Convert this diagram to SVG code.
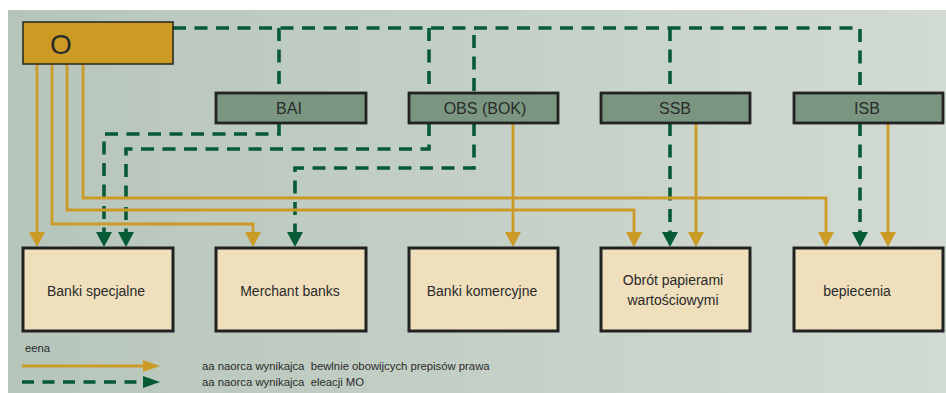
<svg xmlns="http://www.w3.org/2000/svg" width="946" height="393" viewBox="0 0 946 393">
<defs>
<linearGradient id="bg" x1="0" y1="0" x2="1" y2="0">
<stop offset="0" stop-color="#b6c5ba"/>
<stop offset="1" stop-color="#d2dbd3"/>
</linearGradient>
<marker id="ao" markerUnits="userSpaceOnUse" markerWidth="16" markerHeight="18" refX="0" refY="8" orient="auto" viewBox="0 0 16 16">
<path d="M0,0 L15,8 L0,16 z" fill="#cc9b27"/>
</marker>
<marker id="ag" markerUnits="userSpaceOnUse" markerWidth="16" markerHeight="18" refX="0" refY="8" orient="auto" viewBox="0 0 16 16">
<path d="M0,0 L15,8 L0,16 z" fill="#075a36"/>
</marker>
</defs>
<style>
.t{font-family:"Liberation Sans",Arial,sans-serif;fill:#2a2a2a}
.or{fill:none;stroke:#cc9b27;stroke-width:2.8}
.gr{fill:none;stroke:#075a36;stroke-width:3.6;stroke-dasharray:13 8.5}
.top{fill:#7a9680;stroke:#222;stroke-width:2.8}
.bot{fill:#efdfbd;stroke:#222;stroke-width:3}
.lbl{font-size:16px;text-anchor:middle}
.bl{font-size:14px;text-anchor:middle}
.lg{font-size:11.3px;white-space:pre}
</style>
<rect x="8" y="10" width="938" height="383" fill="url(#bg)"/>

<g id="connectors">
<path class="gr" d="M173,28 H860 V93"/>
<path class="gr" d="M279,28 V93"/>
<path class="gr" d="M429,28 V93"/>
<path class="gr" d="M474,35 V93"/>
<path class="gr" d="M670,28 V93"/>
<path class="gr" d="M279,123 V134 H104 V232" marker-end="url(#ag)"/>
<path class="gr" d="M429,123 V149 H126 V232" marker-end="url(#ag)"/>
<path class="gr" d="M474,123 V168 H295 V232" marker-end="url(#ag)"/>
<path class="gr" d="M670,123 V232" marker-end="url(#ag)"/>
<path class="gr" d="M860,123 V232" marker-end="url(#ag)"/>
<path class="or" d="M37,64 V232" marker-end="url(#ao)"/>
<path class="or" d="M52,64 V224 H253 V232" marker-end="url(#ao)"/>
<path class="or" d="M67,64 V210 H634 V232" marker-end="url(#ao)"/>
<path class="or" d="M83,64 V198 H826 V232" marker-end="url(#ao)"/>
<path class="or" d="M513,123 V232" marker-end="url(#ao)"/>
<path class="or" d="M696,123 V232" marker-end="url(#ao)"/>
<path class="or" d="M888,123 V232" marker-end="url(#ao)"/>
</g>

<g id="node-O">
<rect x="23" y="22" width="150" height="42" fill="#cc9b24" stroke="#222" stroke-width="1.5"/>
<text class="t" x="61" y="54" font-size="28" text-anchor="middle">O</text>
</g>
<g id="node-BAI">
<rect class="top" x="216" y="93" width="150" height="30"/>
<text class="t lbl" x="289" y="114">BAI</text>
</g>
<g id="node-OBS">
<rect class="top" x="409" y="93" width="149" height="30"/>
<text class="t lbl" x="485" y="114">OBS (BOK)</text>
</g>
<g id="node-SSB">
<rect class="top" x="601" y="93" width="149" height="30"/>
<text class="t lbl" x="675" y="114">SSB</text>
</g>
<g id="node-ISB">
<rect class="top" x="794" y="93" width="149" height="30"/>
<text class="t lbl" x="867" y="114">ISB</text>
</g>

<g id="node-banki-specjalne">
<rect class="bot" x="23" y="248" width="150" height="83"/>
<text class="t bl" x="96" y="296">Banki specjalne</text>
</g>
<g id="node-merchant">
<rect class="bot" x="216" y="248" width="150" height="83"/>
<text class="t bl" x="290" y="296">Merchant banks</text>
</g>
<g id="node-komercyjne">
<rect class="bot" x="409" y="248" width="149" height="83"/>
<text class="t bl" x="482" y="296">Banki komercyjne</text>
</g>
<g id="node-obrot">
<rect class="bot" x="601" y="248" width="149" height="83"/>
<text class="t bl" x="673" y="285">Obrót papierami</text>
<text class="t bl" x="673" y="305">wartościowymi</text>
</g>
<g id="node-bepiecenia">
<rect class="bot" x="794" y="248" width="149" height="83"/>
<text class="t bl" x="857" y="296">bepiecenia</text>
</g>

<g id="legend">
<text class="t lg" x="25" y="352">eena</text>
<line x1="22" y1="366" x2="144" y2="366" stroke="#cc9b27" stroke-width="2.8"/>
<path d="M143,360 L160,366 L143,372 z" fill="#cc9b27"/>
<line x1="22" y1="382" x2="138" y2="382" stroke="#075a36" stroke-width="3.6" stroke-dasharray="12 8.5"/>
<path d="M143,376 L160,382 L143,388 z" fill="#075a36"/>
<text class="t lg" x="202" y="370" xml:space="preserve">aa naorca wynikajca  bewlnie obowijcych prepisów prawa</text>
<text class="t lg" x="202" y="386" xml:space="preserve">aa naorca wynikajca  eleacji MO</text>
</g>
</svg>
